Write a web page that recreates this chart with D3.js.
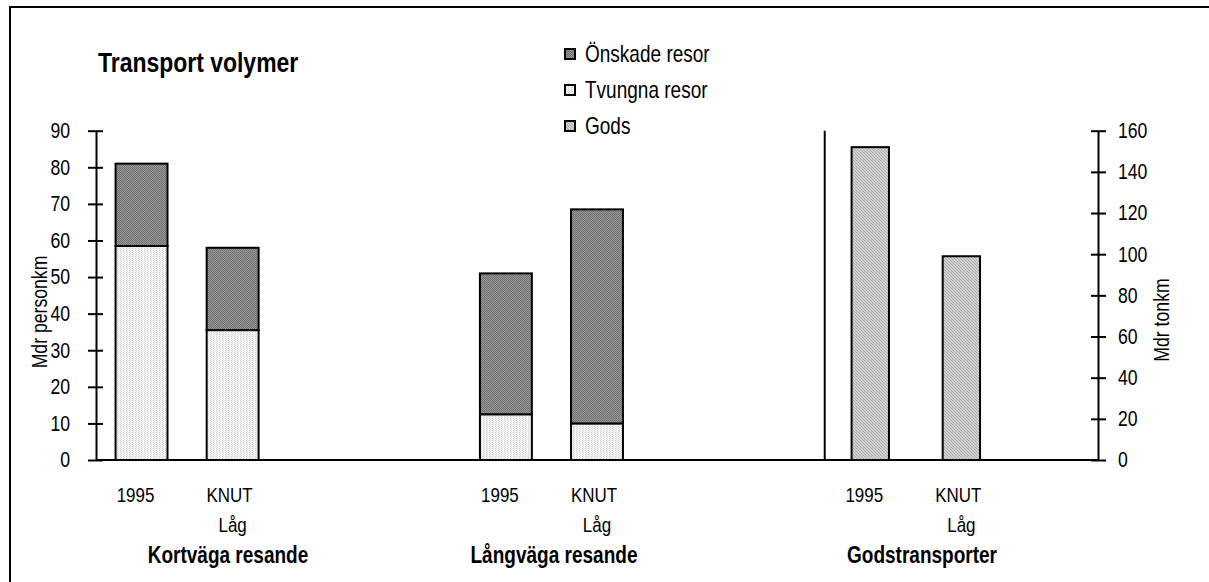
<!DOCTYPE html>
<html>
<head>
<meta charset="utf-8">
<script src="https://cdn.jsdelivr.net/npm/d3@7"></script>
<style>
  body { margin: 0; background: #fff; }
  text { font-family: "Liberation Sans", Arial, sans-serif; fill: #000; }
</style>
</head>
<body>
<div id="chart"></div>
<script>
// category slots on the x axis (Excel-style, with empty slots between groups)
const slots = ["Kort 1995", "Kort KNUT", "gap1", "gap2", "Lång 1995", "Lång KNUT", "gap3", "gap4", "Gods 1995", "Gods KNUT", "gap5"];
const slotLabels = ["1995", "KNUT\nLåg", "", "", "1995", "KNUT\nLåg", "", "", "1995", "KNUT\nLåg", ""];

// persons (left axis, Mdr personkm)
const personCats = ["Kort 1995", "Kort KNUT", "Lång 1995", "Lång KNUT"];
const tvungna = [58.5, 35.5, 12.5, 10];
const onskade = [22.5, 22.5, 38.5, 58.5];

// goods (right axis, Mdr tonkm)
const godsCats = ["Gods 1995", "Gods KNUT"];
const gods = [152, 99];

const groupTitles = ["Kortväga resande", "Långväga resande", "Godstransporter"];
const legendLabels = ["Önskade resor", "Tvungna resor", "Gods"];

const leftTicks = [0, 10, 20, 30, 40, 50, 60, 70, 80, 90];
const rightTicks = [0, 20, 40, 60, 80, 100, 120, 140, 160];

const W = 1209, H = 582;
const plot = { left: 96, right: 1098, top: 130.7, bottom: 460 };
const NARROW = 0.82; // fake "Arial Narrow" by squeezing Liberation Sans

const svg = d3.select("#chart").append("svg")
  .attr("width", W)
  .attr("height", H);

// patterns
const defs = svg.append("defs");

const pOn = defs.append("pattern").attr("id", "pOnskade")
  .attr("width", 2).attr("height", 2).attr("patternUnits", "userSpaceOnUse");
pOn.append("rect").attr("width", 2).attr("height", 2).attr("fill", "#9a9a9a");
pOn.append("rect").attr("width", 1).attr("height", 1).attr("fill", "#6e6e6e");
pOn.append("rect").attr("x", 1).attr("y", 1).attr("width", 1).attr("height", 1).attr("fill", "#6e6e6e");

const pTv = defs.append("pattern").attr("id", "pTvungna")
  .attr("width", 3).attr("height", 2).attr("patternUnits", "userSpaceOnUse");
pTv.append("rect").attr("width", 3).attr("height", 2).attr("fill", "#f6f6f6");
pTv.append("rect").attr("width", 1).attr("height", 1).attr("fill", "#cfcfcf");
pTv.append("rect").attr("x", 1).attr("y", 1).attr("width", 1).attr("height", 1).attr("fill", "#dcdcdc");

const pGo = defs.append("pattern").attr("id", "pGods")
  .attr("width", 3).attr("height", 3).attr("patternUnits", "userSpaceOnUse");
pGo.append("rect").attr("width", 3).attr("height", 3).attr("fill", "#d2d2d2");
pGo.append("path").attr("d", "M0,0 L3,3 M-1,2 L1,4 M2,-1 L4,1")
  .attr("stroke", "#a6a6a6").attr("stroke-width", 0.9);

const fills = ["url(#pOnskade)", "url(#pTvungna)", "url(#pGods)"];

// outer frame (left + top only, cut by the picture edge)
svg.append("path")
  .attr("d", `M10,${H} L10,7 L${W},7`)
  .attr("fill", "none")
  .attr("stroke", "#000")
  .attr("stroke-width", 2);

// scales
const x = d3.scaleBand().domain(slots).range([plot.left, plot.right]).padding(0);
const yL = d3.scaleLinear().domain([0, 90]).range([plot.bottom, plot.top]);
const yR = d3.scaleLinear().domain([0, 160]).range([plot.bottom, plot.top]);

const personW = x.bandwidth() * 0.57;
const godsW = x.bandwidth() * 0.41;

// divider between persons and goods
svg.append("line")
  .attr("x1", x("Gods 1995")).attr("x2", x("Gods 1995"))
  .attr("y1", yL(90)).attr("y2", yL(0))
  .attr("stroke", "#000").attr("stroke-width", 2);

// stacked person bars
const stackData = personCats.map((c, i) => ({ cat: c, tvungna: tvungna[i], onskade: onskade[i] }));
const series = d3.stack().keys(["tvungna", "onskade"])(stackData);

svg.append("g").selectAll("g")
  .data(series)
  .join("g")
  .attr("fill", d => d.key === "tvungna" ? fills[1] : fills[0])
  .selectAll("rect")
  .data(d => d)
  .join("rect")
  .attr("x", d => x(d.data.cat) + x.bandwidth() / 2 - personW / 2)
  .attr("width", personW)
  .attr("y", d => yL(d[1]))
  .attr("height", d => yL(d[0]) - yL(d[1]))
  .attr("stroke", "#000")
  .attr("stroke-width", 2);

// goods bars
svg.append("g").selectAll("rect")
  .data(godsCats.map((c, i) => ({ cat: c, v: gods[i] })))
  .join("rect")
  .attr("x", d => x(d.cat) + x.bandwidth() / 2 - godsW / 2)
  .attr("width", godsW)
  .attr("y", d => yR(d.v))
  .attr("height", d => yR(0) - yR(d.v))
  .attr("fill", fills[2])
  .attr("stroke", "#000")
  .attr("stroke-width", 2);

// left axis
const axL = svg.append("g")
  .attr("transform", `translate(${plot.left},0)`)
  .call(d3.axisLeft(yL).tickValues(leftTicks).tickSize(8).tickSizeOuter(0).tickPadding(18));
axL.select(".domain").attr("stroke-width", 2);
axL.selectAll(".tick line").attr("x1", 7).attr("stroke-width", 2);
axL.selectAll(".tick text").attr("font-size", 21.5).attr("font-family", null);

// right axis
const axR = svg.append("g")
  .attr("transform", `translate(${plot.right},0)`)
  .call(d3.axisRight(yR).tickValues(rightTicks).tickSize(8).tickSizeOuter(0).tickPadding(12));
axR.select(".domain").attr("stroke-width", 2);
axR.selectAll(".tick line").attr("x1", -7).attr("stroke-width", 2);
axR.selectAll(".tick text").attr("font-size", 21.5).attr("font-family", null);

// baseline
svg.append("line")
  .attr("x1", plot.left).attr("x2", plot.right)
  .attr("y1", yL(0)).attr("y2", yL(0))
  .attr("stroke", "#000").attr("stroke-width", 2);

// category labels
const catG = svg.append("g");
slots.forEach((s, i) => {
  const lines = slotLabels[i].split("\n").filter(t => t);
  lines.forEach((t, j) => {
    const off = j > 0 ? 0 : (lines.length > 1 ? -3 : -6);
    catG.append("text")
      .attr("x", x(s) + x.bandwidth() / 2 + off)
      .attr("y", 502 + j * 30)
      .attr("text-anchor", "middle")
      .attr("font-size", 20.7)
      .text(t);
  });
});

// group titles
const titleX = [228, 554, 922];
groupTitles.forEach((t, i) => {
  svg.append("text")
    .attr("x", titleX[i]).attr("y", 563)
    .attr("text-anchor", "middle")
    .attr("font-size", 23.2)
    .attr("font-weight", "bold")
    .text(t);
});

// axis titles
svg.append("text")
  .attr("transform", "translate(47,312) rotate(-90)")
  .attr("text-anchor", "middle")
  .attr("font-size", 21.5)
  .text("Mdr personkm");

svg.append("text")
  .attr("transform", "translate(1169,320) rotate(-90)")
  .attr("text-anchor", "middle")
  .attr("font-size", 21.5)
  .text("Mdr tonkm");

// chart title
svg.append("text")
  .attr("x", 98).attr("y", 72)
  .attr("font-size", 28)
  .attr("font-weight", "bold")
  .text("Transport volymer");

// legend
const leg = svg.append("g").attr("transform", "translate(565,0)");
legendLabels.forEach((t, i) => {
  const cy = 54 + i * 36;
  leg.append("rect")
    .attr("x", 0).attr("y", cy - 5)
    .attr("width", 10).attr("height", 10)
    .attr("fill", fills[i])
    .attr("stroke", "#000").attr("stroke-width", 2);
  leg.append("text")
    .attr("x", 20).attr("y", cy + 8)
    .attr("font-size", 23.2)
    .text(t);
});

// squeeze all text horizontally
svg.selectAll("text").each(function () {
  const t = d3.select(this);
  const x0 = +t.attr("x") || 0;
  const tr = t.attr("transform") || "";
  t.attr("x", x0 / NARROW).attr("transform", `${tr} scale(${NARROW},1)`);
});
</script>
</body>
</html>
